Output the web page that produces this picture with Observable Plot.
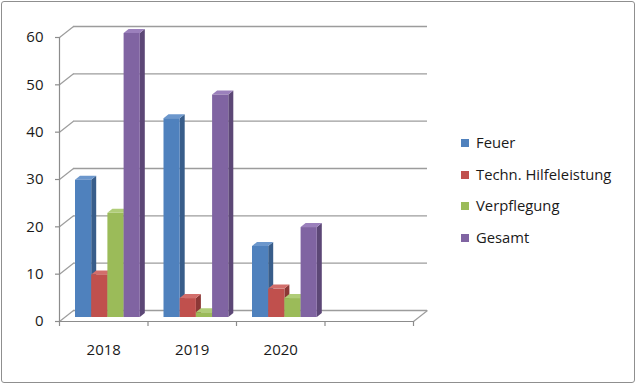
<!DOCTYPE html>
<html>
<head>
<meta charset="utf-8">
<script src="https://cdn.jsdelivr.net/npm/d3@7"></script>
<script src="https://cdn.jsdelivr.net/npm/@observablehq/plot@0.6"></script>
<style>
  html, body { margin: 0; padding: 0; background: #fff; }
  #wrap { position: relative; width: 636px; height: 384px; overflow: hidden; font-family: 'Open Sans', sans-serif; }
  #wrap svg { position: absolute; left: 0; top: 0; }
  #border { position: absolute; left: 1px; top: 1px; width: 632px; height: 380px; border: 1px solid #8f8f8f; border-radius: 3px; pointer-events: none; }
  #legend { position: absolute; left: 461px; top: 132px; font-size: 14.8px; line-height: 20px; color: #1a1a1a; }
  .item { height: 31.7px; display: flex; align-items: flex-start; white-space: nowrap; }
  .sw { width: 8px; height: 8px; margin-right: 7px; margin-top: 7px; flex: none; }
</style>
</head>
<body>
<div id="wrap"><div id="border"></div><div id="legend"></div></div>
<script>
// ---- data ----
const years = ["2018", "2019", "2020"];
const seriesNames = ["Feuer", "Techn. Hilfeleistung", "Verpflegung", "Gesamt"];
const feuer = [29, 42, 15];
const techn = [9, 4, 6];
const verpflegung = [22, 1, 4];
const gesamt = [60, 47, 19];
const yTicks = [0, 10, 20, 30, 40, 50, 60];

// ---- styles ----
const frontColors = ["#4F81BD", "#C0504D", "#9BBB59", "#8064A2"];
const sideColors  = ["#385D8A", "#8C3836", "#71893F", "#5C4776"];
const topColors   = ["#6C97CC", "#D26E6B", "#B0CD78", "#9B80BC"];

const seriesValues = [feuer, techn, verpflegung, gesamt];
const slots = 4; // three years plus one empty category slot
const pxPerX = 354 / slots;      // pixels per category
const pxPerY = 284 / 60;         // pixels per unit
const barOffset = 16 / pxPerX;   // gap before first bar in a category
const barWidth = 16.2 / pxPerX;
const sideDX = 5 / pxPerX, sideDY = 4 / pxPerY;     // bar depth
const wallDX = 14 / pxPerX, wallDY = 11 / pxPerY;   // chart depth

const marks = [];
// back wall gridlines
marks.push(Plot.ruleY(yTicks, {y: d => d + wallDY, x1: wallDX, x2: slots + wallDX, stroke: "#9c9c9c", strokeWidth: 1.4}));
// depth diagonals from axis to wall
marks.push(Plot.link(yTicks, {x1: 0, y1: d => d, x2: wallDX, y2: d => d + wallDY, stroke: "#9c9c9c", strokeWidth: 1.2}));
marks.push(Plot.link([0], {x1: slots, y1: 0, x2: slots + wallDX, y2: wallDY, stroke: "#9c9c9c", strokeWidth: 1.2}));

// bars
seriesValues.forEach((vals, j) => {
  const bars = years.map((y, i) => {
    const x1 = i + barOffset + j * barWidth;
    return {id: y + "-" + j, year: y, value: vals[i], x1, x2: x1 + barWidth};
  });
  const side = bars.flatMap(b => [
    {id: b.id, x: b.x2, y1: 0, y2: b.value},
    {id: b.id, x: b.x2 + sideDX, y1: sideDY, y2: b.value + sideDY}
  ]);
  const top = bars.flatMap(b => [
    {id: b.id, x: b.x1, y1: b.value, y2: b.value},
    {id: b.id, x: b.x1 + sideDX, y1: b.value, y2: b.value + sideDY},
    {id: b.id, x: b.x2, y1: b.value, y2: b.value + sideDY},
    {id: b.id, x: b.x2 + sideDX, y1: b.value + sideDY, y2: b.value + sideDY}
  ]);
  marks.push(Plot.areaY(side, {x: "x", y1: "y1", y2: "y2", z: "id", fill: sideColors[j], dy: -4}));
  marks.push(Plot.areaY(top, {x: "x", y1: "y1", y2: "y2", z: "id", fill: topColors[j], dy: -4}));
  marks.push(Plot.rect(bars, {x1: "x1", x2: "x2", y1: 0, y2: "value", fill: frontColors[j], dy: -4}));
});

// front axes
marks.push(Plot.ruleX([0], {y1: 0, y2: 60, stroke: "#8c8c8c", strokeWidth: 1.2}));
marks.push(Plot.ruleY([0], {x1: 0, x2: slots, stroke: "#8c8c8c", strokeWidth: 1.2}));
marks.push(Plot.ruleY(yTicks, {x1: 0, x2: -4 / pxPerX, stroke: "#8c8c8c", strokeWidth: 1.2}));
marks.push(Plot.ruleX(d3.range(slots + 1), {y1: 0, y2: -5 / pxPerY, stroke: "#8c8c8c", strokeWidth: 1.2}));
// tick labels
marks.push(Plot.text(yTicks, {x: 0, y: d => d, text: d => String(d), textAnchor: "end", dx: -16, fontSize: 15, fill: "#1a1a1a"}));
marks.push(Plot.text(years, {x: (d, i) => i + 0.5, y: 0, text: d => d, dy: 29, fontSize: 15, fill: "#1a1a1a"}));

const chart = Plot.plot({
  width: 636,
  height: 384,
  marginLeft: 59,
  marginRight: 223,
  marginTop: 37,
  marginBottom: 63,
  x: {domain: [0, slots], axis: null},
  y: {domain: [0, 60], axis: null},
  style: {fontFamily: "'Open Sans', sans-serif", background: "transparent"},
  marks
});
document.getElementById("wrap").prepend(chart);

// legend
const legend = document.getElementById("legend");
seriesNames.forEach((name, j) => {
  const item = document.createElement("div");
  item.className = "item";
  const sw = document.createElement("div");
  sw.className = "sw";
  sw.style.background = frontColors[j];
  const t = document.createElement("span");
  t.textContent = name;
  item.append(sw, t);
  legend.append(item);
});
</script>
</body>
</html>
